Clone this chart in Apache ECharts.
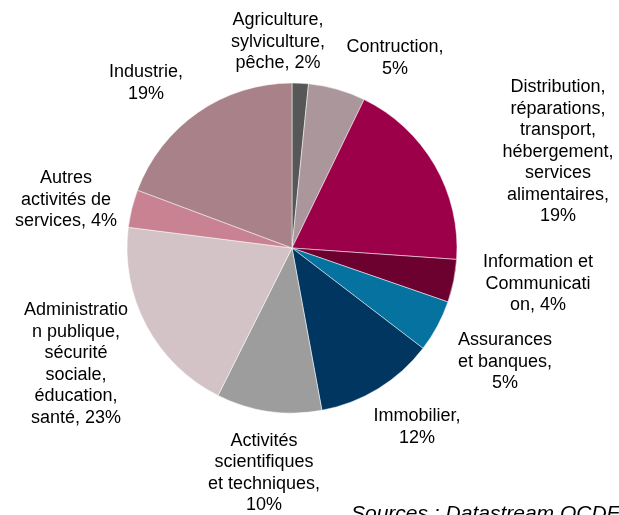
<!DOCTYPE html>
<html>
<head>
<meta charset="utf-8">
<script src="https://cdn.jsdelivr.net/npm/echarts@6/dist/echarts.min.js"></script>
<style>
  html, body { margin: 0; padding: 0; background: #fff; }
  #chart { width: 619px; height: 515px; }
</style>
</head>
<body>
<div id="chart"></div>
<script>
// sectors, clockwise from 12 o'clock
const names = [
  'Agriculture,\nsylviculture,\npêche',
  'Contruction,',
  'Distribution,\nréparations,\ntransport,\nhébergement,\nservices\nalimentaires,',
  'Information et\nCommunicati\non',
  'Assurances\net banques,',
  'Immobilier,',
  'Activités\nscientifiques\net techniques,',
  'Administratio\nn publique,\nsécurité\nsociale,\néducation,\nsanté',
  'Autres\nactivités de\nservices',
  'Industrie,'
];
// slice sizes
const shares = [1.6, 5.6, 18.9, 4.2, 5.1, 11.7, 10.3, 19.6, 3.7, 19.3];
// percentages printed in the labels
const labelPct = [2, 5, 19, 4, 5, 12, 10, 23, 4, 19];
// percentage on its own line or after ", "
const joinNewline = [false, true, true, false, true, true, true, false, false, true];
const colors = ['#575757', '#ab979b', '#9b0049', '#6c002f', '#0672a0',
                '#003660', '#9d9d9d', '#d3c3c7', '#c98292', '#a88288'];

// label block centres (layout only)
const labelPos = [
  [278, 42], [395, 58], [558, 152], [538, 284], [505, 362],
  [417, 427], [264, 473], [76, 364], [66, 200], [146, 83]
];

const chart = echarts.init(document.getElementById('chart'));
chart.setOption({
  animation: false,
  color: colors,
  series: [{
    type: 'pie',
    center: [292, 248],
    radius: 165,
    startAngle: 90,
    clockwise: true,
    avoidLabelOverlap: false,
    itemStyle: { borderColor: '#fff', borderWidth: 0.5 },
    label: {
      show: true,
      position: 'outside',
      fontFamily: 'Liberation Sans, Arial, sans-serif',
      fontSize: 18,
      lineHeight: 21.5,
      color: '#000',
      align: 'center',
      formatter: p => p.name + (joinNewline[p.dataIndex] ? '\n' : ', ') + labelPct[p.dataIndex] + '%'
    },
    labelLine: { show: false },
    labelLayout: p => ({
      x: labelPos[p.dataIndex][0],
      y: labelPos[p.dataIndex][1],
      align: 'center',
      verticalAlign: 'middle'
    }),
    data: names.map((n, i) => ({ name: n, value: shares[i] }))
  }],
  graphic: [{
    type: 'text',
    left: 351,
    top: 504,
    style: {
      text: 'Sources : Datastream OCDE',
      font: 'italic 21px Liberation Sans, Arial, sans-serif',
      fill: '#000'
    }
  }]
});
</script>
</body>
</html>
